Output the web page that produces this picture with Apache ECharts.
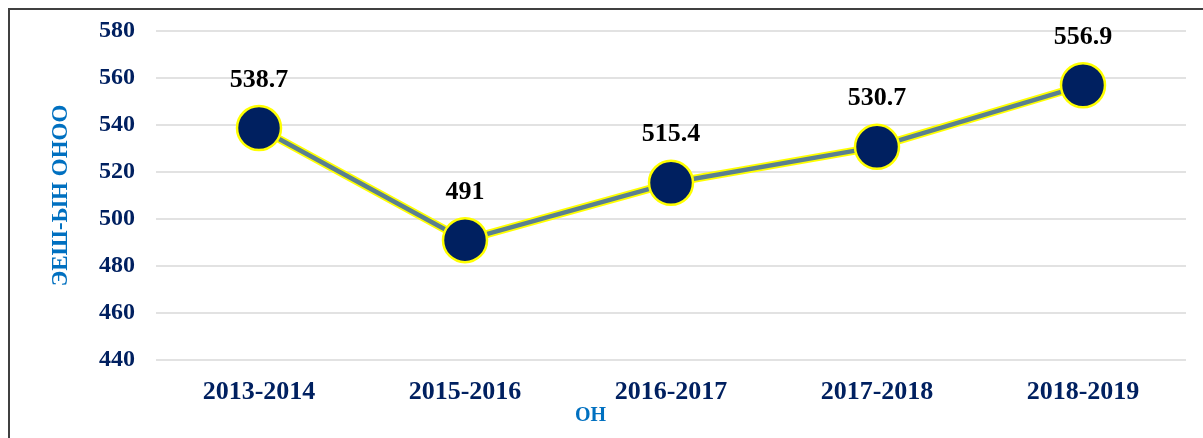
<!DOCTYPE html>
<html>
<head>
<meta charset="utf-8">
<script src="https://cdn.jsdelivr.net/npm/echarts@6/dist/echarts.min.js"></script>
<style>
html,body{margin:0;padding:0;background:#fff;}
#c{width:1203px;height:438px;}
</style>
</head>
<body>
<div id="c"></div>
<script>
const categories = ['2013-2014', '2015-2016', '2016-2017', '2017-2018', '2018-2019'];
const scores = [538.7, 491, 515.4, 530.7, 556.9];
const yTicks = { min: 440, max: 580, interval: 20 };
const yTitle = 'ЭЕШ-ЫН ОНОО';
const xTitle = 'ОН';

const serif = '"Liberation Serif", "Times New Roman", serif';
const chart = echarts.init(document.getElementById('c'));
chart.setOption({
  animation: false,
  backgroundColor: '#fff',
  grid: { left: 156, right: 17, top: 31, bottom: 78, containLabel: false },
  graphic: [
    { type: 'line', shape: { x1: 8, y1: 9, x2: 1203, y2: 9 }, style: { stroke: '#404040', lineWidth: 2 } },
    { type: 'line', shape: { x1: 9, y1: 8, x2: 9, y2: 438 }, style: { stroke: '#404040', lineWidth: 2 } },
    { type: 'text', left: 575, top: 406,
      style: { text: xTitle, fill: '#0070C0', font: 'bold 20px ' + serif } }
  ],
  xAxis: {
    type: 'category',
    data: categories,
    boundaryGap: true,
    axisLine: { show: false },
    axisTick: { show: false },
    axisLabel: { color: '#002060', fontFamily: serif, fontWeight: 'bold', fontSize: 26, margin: 19 }
  },
  yAxis: {
    type: 'value',
    min: yTicks.min,
    max: yTicks.max,
    interval: yTicks.interval,
    name: yTitle,
    nameLocation: 'middle',
    nameGap: 83,
    nameRotate: 90,
    nameTextStyle: { color: '#0070C0', fontFamily: serif, fontWeight: 'bold', fontSize: 23 },
    axisLine: { show: false },
    axisTick: { show: false },
    axisLabel: { color: '#002060', fontFamily: serif, fontWeight: 'bold', fontSize: 24, margin: 21 },
    splitLine: { lineStyle: { color: '#d9d9d9', width: 1.5 } }
  },
  series: [
    {
      type: 'line',
      data: scores,
      symbol: 'none',
      silent: true,
      lineStyle: { color: '#FFFF00', width: 8 },
      z: 1
    },
    {
      type: 'line',
      data: scores,
      symbol: 'circle',
      symbolSize: 44,
      lineStyle: { color: '#5A8090', width: 4.5 },
      itemStyle: { color: '#002060', borderColor: '#FFFF00', borderWidth: 2.5 },
      label: {
        show: true,
        position: 'top',
        distance: 12,
        color: '#000',
        fontFamily: serif,
        fontWeight: 'bold',
        fontSize: 26
      },
      z: 2
    }
  ]
});
</script>
</body>
</html>
